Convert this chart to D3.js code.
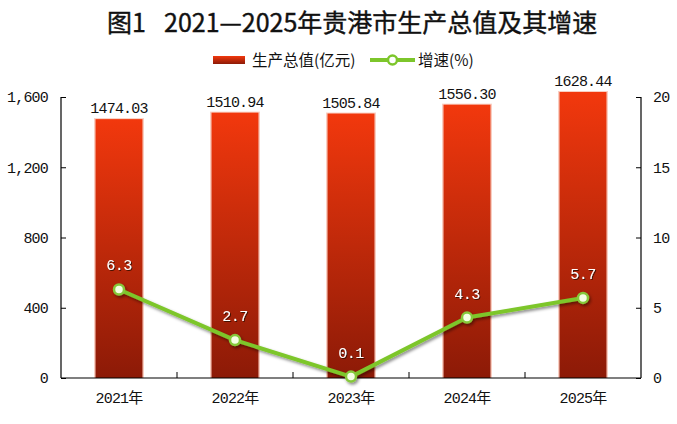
<!DOCTYPE html>
<html>
<head>
<meta charset="utf-8">
<script src="https://cdn.jsdelivr.net/npm/d3@7"></script>
<style>
  body { margin: 0; background: #fff; }
  svg { display: block; }
</style>
</head>
<body>
<div id="chart"></div>
<script>
// data
const years = ["2021年", "2022年", "2023年", "2024年", "2025年"];
const gdp = [1474.03, 1510.94, 1505.84, 1556.30, 1628.44];
const growth = [6.3, 2.7, 0.1, 4.3, 5.7];
const leftTicks = [0, 400, 800, 1200, 1600];
const rightTicks = [0, 5, 10, 15, 20];

const W = 677, H = 424;
const margin = {top: 97, right: 36, bottom: 46, left: 61};
const width = W - margin.left - margin.right,
      height = H - margin.top - margin.bottom;

const numFont = "'Liberation Mono', 'Noto Sans CJK SC', monospace";
const cjkFont = "'Noto Sans CJK SC', sans-serif";

const svg = d3.select("#chart").append("svg")
    .attr("width", W).attr("height", H);

const defs = svg.append("defs");
const grad = defs.append("linearGradient")
    .attr("id", "barGrad").attr("x1", 0).attr("y1", 0).attr("x2", 0).attr("y2", 1);
grad.append("stop").attr("offset", "0%").attr("stop-color", "#f2380d");
grad.append("stop").attr("offset", "100%").attr("stop-color", "#8c1a07");

const shadow = defs.append("filter").attr("id", "shadow")
    .attr("x", "-20%").attr("y", "-50%").attr("width", "140%").attr("height", "200%");
shadow.append("feDropShadow").attr("dx", 1.5).attr("dy", 2)
    .attr("stdDeviation", 1.5).attr("flood-color", "#000").attr("flood-opacity", 0.45);

const txtShadow = defs.append("filter").attr("id", "txtShadow");
txtShadow.append("feDropShadow").attr("dx", 1).attr("dy", 1)
    .attr("stdDeviation", 0.6).attr("flood-color", "#3a0a00").attr("flood-opacity", 0.9);

// title, two pieces so the wide gap after 图1 is kept
const title = svg.append("g").style("font-family", cjkFont)
    .style("font-size", "25px").style("font-weight", 400).attr("fill", "#111")
    .attr("stroke", "#111").attr("stroke-width", 0.4);
title.append("text").attr("x", 107).attr("y", 32).text("图1");
title.append("text").attr("x", 164).attr("y", 32).text("2021—2025年贵港市生产总值及其增速");

// legend
const lg = svg.append("g").attr("transform", "translate(213,60)");
lg.append("rect").attr("x", 0).attr("y", -4).attr("width", 32).attr("height", 8)
    .attr("fill", "url(#barGrad)");
lg.append("text").attr("x", 39).attr("y", 5.5)
    .style("font-family", cjkFont).style("font-size", "15.5px").attr("fill", "#111")
    .text("生产总值(亿元)");
lg.append("line").attr("x1", 157).attr("x2", 202).attr("y1", 0).attr("y2", 0)
    .attr("stroke", "#7dc62b").attr("stroke-width", 4);
lg.append("circle").attr("cx", 179.5).attr("cy", 0).attr("r", 4.5)
    .attr("fill", "#fff").attr("stroke", "#7dc62b").attr("stroke-width", 2.5);
lg.append("text").attr("x", 205).attr("y", 5.5)
    .style("font-family", cjkFont).style("font-size", "15.5px").attr("fill", "#111")
    .text("增速(%)");

const g = svg.append("g")
    .attr("transform", "translate(" + margin.left + "," + margin.top + ")");

const x = d3.scaleBand().domain(years).range([0, width]).paddingInner(0.595).paddingOuter(0.2975);
const yL = d3.scaleLinear().domain([0, 1600]).range([height, 0]);
const yR = d3.scaleLinear().domain([0, 20]).range([height, 0]);

// bars with a soft pink rim
const bars = g.append("g").selectAll("g").data(gdp).enter().append("g");
bars.append("rect")
    .attr("x", (d, i) => x(years[i]) - 1.5)
    .attr("y", d => yL(d) - 1)
    .attr("width", x.bandwidth() + 3)
    .attr("height", d => height - yL(d) + 1)
    .attr("fill", "#f6b9a6").attr("opacity", 0.7);
bars.append("rect")
    .attr("x", (d, i) => x(years[i]))
    .attr("y", d => yL(d))
    .attr("width", x.bandwidth())
    .attr("height", d => height - yL(d))
    .attr("fill", "url(#barGrad)");

// bar value labels
g.append("g").selectAll("text").data(gdp).enter().append("text")
    .attr("x", (d, i) => x(years[i]) + x.bandwidth() / 2)
    .attr("y", d => yL(d) - 6)
    .attr("text-anchor", "middle")
    .style("font-family", numFont).style("font-size", "15px").style("letter-spacing", "-0.8px")
    .attr("fill", "#111")
    .text(d => d.toFixed(2));

// axes
const axL = g.append("g")
    .call(d3.axisLeft(yL).tickValues(leftTicks).tickSize(-5).tickPadding(13).tickFormat(d3.format(",")));
const axR = g.append("g").attr("transform", "translate(" + width + ",0)")
    .call(d3.axisRight(yR).tickValues(rightTicks).tickSize(-5).tickPadding(12));
const axB = g.append("g").attr("transform", "translate(0," + height + ")")
    .call(d3.axisBottom(x).tickSize(0).tickPadding(14));

[axL, axR, axB].forEach(a => {
    a.select(".domain").attr("stroke", "#000").attr("stroke-width", 1.2);
    a.selectAll(".tick line").attr("stroke", "#000");
    a.selectAll("text").style("font-family", numFont).style("font-size", "15px")
        .style("letter-spacing", "-0.8px").attr("fill", "#111");
});
axL.select(".domain").attr("d", "M0,0V" + height);
axR.select(".domain").attr("d", "M0,0V" + height);
axB.select(".domain").attr("d", "M0,0H" + width);

// category separators on x axis
g.append("g").selectAll("line").data(years.slice(1)).enter().append("line")
    .attr("x1", d => x(d) - x.step() * x.paddingInner() / 2)
    .attr("x2", d => x(d) - x.step() * x.paddingInner() / 2)
    .attr("y1", height).attr("y2", height - 6)
    .attr("stroke", "#000");

// growth line
const cx = i => x(years[i]) + x.bandwidth() / 2;
const line = d3.line().x((d, i) => cx(i)).y(d => yR(d));
const lineG = g.append("g").attr("filter", "url(#shadow)");
lineG.append("path").datum(growth)
    .attr("d", line).attr("fill", "none")
    .attr("stroke", "#7dc62b").attr("stroke-width", 4).attr("stroke-linejoin", "round");
lineG.selectAll("circle").data(growth).enter().append("circle")
    .attr("cx", (d, i) => cx(i)).attr("cy", d => yR(d)).attr("r", 5)
    .attr("fill", "#f4ffe4").attr("stroke", "#86c83a").attr("stroke-width", 2.5);

g.append("g").selectAll("text").data(growth).enter().append("text")
    .attr("x", (d, i) => cx(i))
    .attr("y", d => yR(d) - 19)
    .attr("text-anchor", "middle")
    .attr("filter", "url(#txtShadow)")
    .style("font-family", numFont).style("font-size", "15px").style("letter-spacing", "-0.5px")
    .attr("fill", "#fff")
    .text(d => d.toFixed(1));
</script>
</body>
</html>
